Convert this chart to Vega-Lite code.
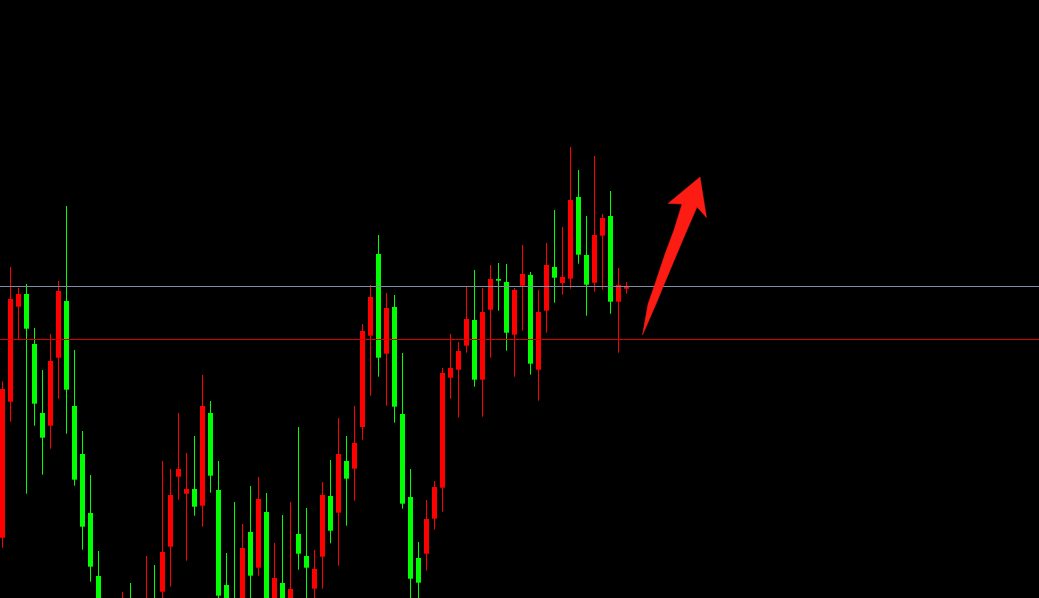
{
  "$schema": "https://vega.github.io/schema/vega-lite/v6.json",
  "width": 1039,
  "height": 598,
  "autosize": {"type": "fit", "contains": "padding"},
  "padding": 0,
  "background": "#000000",
  "config": {"view": {"stroke": null}},
  "datasets": {
    "candles": [
      {"i": 0, "o": 60.3, "h": 216.7, "l": 50.3, "c": 209},
      {"i": 1, "o": 196.3, "h": 331, "l": 176.3, "c": 299},
      {"i": 2, "o": 291.3, "h": 310.3, "l": 258.7, "c": 304},
      {"i": 3, "o": 304, "h": 314, "l": 104.3, "c": 269.3},
      {"i": 4, "o": 254, "h": 270, "l": 172.3, "c": 194.3},
      {"i": 5, "o": 185, "h": 228, "l": 123.3, "c": 160.3},
      {"i": 6, "o": 172.3, "h": 264, "l": 149.3, "c": 237},
      {"i": 7, "o": 240.3, "h": 317, "l": 199.3, "c": 307},
      {"i": 8, "o": 297, "h": 392, "l": 164.3, "c": 208.3},
      {"i": 9, "o": 192, "h": 248, "l": 112.3, "c": 118.3},
      {"i": 10, "o": 144, "h": 167, "l": 48.3, "c": 71.3},
      {"i": 11, "o": 85, "h": 123, "l": 16.3, "c": 31.3},
      {"i": 12, "o": 22, "h": 47, "l": -27, "c": -12},
      {"i": 13, "o": -14, "h": -5, "l": -42, "c": -32},
      {"i": 14, "o": -30, "h": -7, "l": -47, "c": -17},
      {"i": 15, "o": -17, "h": 6, "l": -27, "c": -2},
      {"i": 16, "o": -2, "h": 15, "l": -22, "c": -14},
      {"i": 17, "o": -20, "h": -4, "l": -30, "c": -8},
      {"i": 18, "o": -14, "h": 42, "l": -24, "c": -5},
      {"i": 19, "o": -2, "h": 33, "l": -20, "c": -12},
      {"i": 20, "o": 6.3, "h": 137, "l": -7, "c": 46},
      {"i": 21, "o": 51.3, "h": 129, "l": 11.3, "c": 103},
      {"i": 22, "o": 121.3, "h": 185, "l": 98.3, "c": 129},
      {"i": 23, "o": 104.3, "h": 145, "l": 37.3, "c": 109},
      {"i": 24, "o": 109, "h": 162, "l": 82.3, "c": 91.3},
      {"i": 25, "o": 92.3, "h": 223, "l": 71.3, "c": 192},
      {"i": 26, "o": 185, "h": 197, "l": 105.3, "c": 122.3},
      {"i": 27, "o": 108, "h": 137, "l": -7, "c": 2.3},
      {"i": 28, "o": 13, "h": 45, "l": -22, "c": -12},
      {"i": 29, "o": -7, "h": 96, "l": -27, "c": -17},
      {"i": 30, "o": -12, "h": 74, "l": -22, "c": 50},
      {"i": 31, "o": 66, "h": 112, "l": -7, "c": 22.3},
      {"i": 32, "o": 30.3, "h": 121, "l": 22.3, "c": 99},
      {"i": 33, "o": 86, "h": 105, "l": -22, "c": -12},
      {"i": 34, "o": -12, "h": 55, "l": -22, "c": 20},
      {"i": 35, "o": 15, "h": 83, "l": -22, "c": -12},
      {"i": 36, "o": -12, "h": 96, "l": -22, "c": 9},
      {"i": 37, "o": 64, "h": 171, "l": 28.3, "c": 44.3},
      {"i": 38, "o": 42, "h": 90, "l": -7, "c": 30.3},
      {"i": 39, "o": 9.3, "h": 48, "l": -7, "c": 29},
      {"i": 40, "o": 41.3, "h": 116, "l": 9.3, "c": 103},
      {"i": 41, "o": 102, "h": 138, "l": 54.7, "c": 67.3},
      {"i": 42, "o": 85.3, "h": 180, "l": 32.3, "c": 144},
      {"i": 43, "o": 137, "h": 162, "l": 72.3, "c": 119.3},
      {"i": 44, "o": 129.3, "h": 192, "l": 97.3, "c": 155},
      {"i": 45, "o": 171, "h": 274, "l": 158.3, "c": 267},
      {"i": 46, "o": 262.3, "h": 313, "l": 202.3, "c": 301},
      {"i": 47, "o": 344, "h": 363, "l": 221.3, "c": 240.3},
      {"i": 48, "o": 244.3, "h": 305, "l": 192.3, "c": 290},
      {"i": 49, "o": 291, "h": 303, "l": 175.3, "c": 191.3},
      {"i": 50, "o": 184, "h": 245, "l": 89.3, "c": 94.3},
      {"i": 51, "o": 101, "h": 129, "l": -7, "c": 19.3},
      {"i": 52, "o": 40, "h": 56, "l": -7, "c": 15.3},
      {"i": 53, "o": 44.3, "h": 98, "l": 27.3, "c": 79},
      {"i": 54, "o": 79.3, "h": 117, "l": 68.3, "c": 111},
      {"i": 55, "o": 110.3, "h": 230, "l": 86.3, "c": 225},
      {"i": 56, "o": 220.3, "h": 264, "l": 199.3, "c": 230},
      {"i": 57, "o": 228.3, "h": 256, "l": 180.3, "c": 247},
      {"i": 58, "o": 252.3, "h": 312, "l": 245.3, "c": 279},
      {"i": 59, "o": 278, "h": 328, "l": 211.3, "c": 218.3},
      {"i": 60, "o": 218.3, "h": 310, "l": 181.3, "c": 286},
      {"i": 61, "o": 288.3, "h": 333, "l": 240.3, "c": 319},
      {"i": 62, "o": 319, "h": 335, "l": 287.3, "c": 317.3},
      {"i": 63, "o": 316, "h": 334, "l": 247.3, "c": 265.3},
      {"i": 64, "o": 263.3, "h": 310, "l": 221.3, "c": 308},
      {"i": 65, "o": 312.3, "h": 353, "l": 267.3, "c": 324},
      {"i": 66, "o": 323, "h": 326, "l": 223.3, "c": 234.3},
      {"i": 67, "o": 228.3, "h": 308, "l": 197.3, "c": 286},
      {"i": 68, "o": 287.3, "h": 355, "l": 265.3, "c": 333},
      {"i": 69, "o": 331, "h": 388, "l": 295.3, "c": 320.3},
      {"i": 70, "o": 315, "h": 371, "l": 303.3, "c": 321},
      {"i": 71, "o": 319.3, "h": 451, "l": 309.3, "c": 398},
      {"i": 72, "o": 401, "h": 428, "l": 334.3, "c": 343.3},
      {"i": 73, "o": 343, "h": 382, "l": 282.3, "c": 313.3},
      {"i": 74, "o": 315.3, "h": 442, "l": 306.3, "c": 363},
      {"i": 75, "o": 362.3, "h": 384, "l": 308.3, "c": 380},
      {"i": 76, "o": 382, "h": 407, "l": 284.3, "c": 296.3},
      {"i": 77, "o": 296.3, "h": 330, "l": 245.3, "c": 313},
      {"i": 78, "o": 309.3, "h": 316, "l": 304.3, "c": 312}
    ],
    "arrow": [
      {"k": 1, "ax": 80.0, "ay": 263},
      {"k": 2, "ax": 80.6875, "ay": 294},
      {"k": 3, "ax": 81.5625, "ay": 314},
      {"k": 4, "ax": 82.8125, "ay": 344},
      {"k": 5, "ax": 83.9375, "ay": 368},
      {"k": 6, "ax": 84.9375, "ay": 394},
      {"k": 7, "ax": 83.1875, "ay": 394.5},
      {"k": 8, "ax": 87.1875, "ay": 421},
      {"k": 9, "ax": 88.0, "ay": 380.5},
      {"k": 10, "ax": 86.8125, "ay": 391},
      {"k": 11, "ax": 85.5625, "ay": 368},
      {"k": 12, "ax": 84.1875, "ay": 342},
      {"k": 13, "ax": 82.5625, "ay": 311},
      {"k": 14, "ax": 81.6875, "ay": 294},
      {"k": 15, "ax": 80.0, "ay": 263}
    ],
    "levels": [
      {"lv": 311.5, "kind": "gray"},
      {"lv": 258.5, "kind": "red"}
    ]
  },
  "layer": [
    {
      "data": {"name": "candles"},
      "mark": {"type": "rule", "strokeWidth": 1, "clip": true},
      "encoding": {
        "x": {"field": "i", "type": "quantitative", "scale": {"domain": [-0.3125, 129.5625], "nice": false, "zero": false, "padding": 0}, "axis": null},
        "y": {"field": "l", "type": "quantitative", "scale": {"domain": [0, 598], "nice": false, "zero": false, "padding": 0}, "axis": null},
        "y2": {"field": "h"},
        "color": {"condition": {"test": "datum.c > datum.o", "value": "#ff0000"}, "value": "#00ff00"}
      }
    },
    {
      "data": {"name": "candles"},
      "mark": {"type": "bar", "width": 5, "clip": true},
      "encoding": {
        "x": {"field": "i", "type": "quantitative"},
        "y": {"field": "o", "type": "quantitative"},
        "y2": {"field": "c"},
        "color": {"condition": {"test": "datum.c > datum.o", "value": "#ff0000"}, "value": "#00ff00"}
      }
    },
    {
      "data": {"name": "levels"},
      "mark": {"type": "rule", "strokeWidth": 1, "clip": true},
      "encoding": {
        "y": {"field": "lv", "type": "quantitative"},
        "color": {"field": "kind", "type": "nominal", "scale": {"domain": ["gray", "red"], "range": ["#7d8ca2", "#d40000"]}, "legend": null}
      }
    },
    {
      "data": {"name": "arrow"},
      "mark": {"type": "line", "fill": "#fd1c14", "stroke": "#fd1c14", "strokeWidth": 0.5, "clip": true},
      "encoding": {
        "x": {"field": "ax", "type": "quantitative"},
        "y": {"field": "ay", "type": "quantitative"},
        "order": {"field": "k", "type": "quantitative"}
      }
    }
  ]
}
